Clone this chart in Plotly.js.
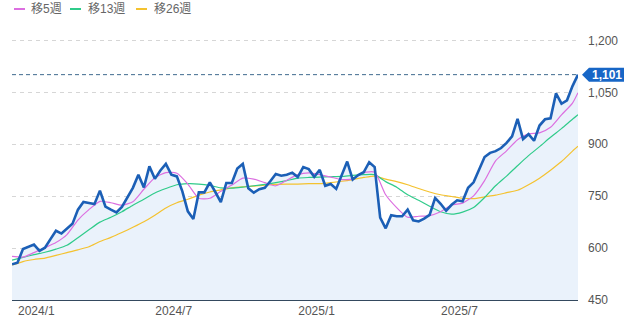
<!DOCTYPE html>
<html>
<head>
<meta charset="utf-8">
<script src="https://cdn.plot.ly/plotly-3.0.1.min.js"></script>
<style>html,body{margin:0;padding:0;background:#fff}#chart{width:628px;height:323px}</style>
</head>
<body>
<div id="chart"></div>
<script>
// Weekly closing prices (one value per week)
const closeValues = [553,558,597,604,610,592,601,626,650,642,
  655,670,711,733,730,727,766,720,711,703,
  719,746,774,812,775,836,800,824,843,812,
  807,764,706,684,761,761,790,762,733,788,
  788,830,843,773,760,770,774,793,814,809,
  812,818,805,834,828,806,826,780,785,771,
  808,850,798,811,819,848,834,688,657,695,
  692,692,711,680,677,685,696,745,728,708,
  725,738,735,774,790,826,863,875,880,889,
  904,923,973,915,929,910,954,972,975,1047,
  1017,1027,1068,1101];

// Moving averages read every second week (last point = latest week)
const ma5 = [576,574,587,601,616,639,681,711,735,731,
  724,734,770,803,818,816,785,744,744,764,
  782,802,799,789,780,796,812,817,812,805,
  798,800,818,819,754,717,689,692,694,705,
  724,730,751,795,852,881,913,930,933,949,
  985,1019,1049];
const ma13 = [565,573,581,588,597,608,630,653,675,689,
  705,724,741,759,772,783,786,785,781,774,
  773,776,780,784,789,795,802,804,805,806,
  807,810,812,812,792,776,754,738,721,705,
  698,704,717,746,780,808,838,867,893,920,
  945,972,985];
const ma26 = [551,561,567,571,579,587,595,604,619,631,
  645,660,676,695,716,731,741,753,762,768,
  774,777,779,782,784,785,785,786,786,789,
  793,798,804,808,799,792,783,772,762,754,
  749,744,743,748,753,760,767,783,802,825,
  850,880,894];

const tickWeeks = [1, 26, 52, 78];
const tickLabels = ['2024/1', '2024/7', '2025/1', '2025/7'];
const seriesNames = ['移5週', '移13週', '移26週'];
const seriesColors = ['#dc6fe0', '#2fcb8a', '#f4c22f'];

const weeks = closeValues.map((_, i) => i);
const lastIdx = closeValues.length - 1;
const maWeeks = ma5.map((_, k) => Math.min(2 * k, lastIdx));
const lastValue = closeValues[lastIdx];

const FONT = 'Arial, "Liberation Sans", "Noto Sans CJK JP", sans-serif';

const traces = [
  {x: weeks, y: closeValues, type: 'scatter', mode: 'lines',
   line: {width: 0, color: 'rgba(0,0,0,0)'}, fill: 'tozeroy', fillcolor: '#eaf2fb',
   hoverinfo: 'skip', showlegend: false}
];
[ma26, ma13, ma5].forEach((arr, j) => {
  const k = 2 - j;
  traces.push({x: maWeeks, y: arr, type: 'scatter', mode: 'lines', name: seriesNames[k],
    line: {color: seriesColors[k], width: 1.2, shape: 'spline', smoothing: 0.6}});
});
traces.push({x: weeks, y: closeValues, type: 'scatter', mode: 'lines', name: '終値',
  line: {color: '#1b5fb6', width: 2.6}});

const legendDash = [2, 58, 124];
const legendText = [17, 74, 140];
const shapes = [
  {type: 'line', xref: 'paper', x0: 0, x1: 1, yref: 'y', y0: lastValue, y1: lastValue,
   line: {color: '#3f6a8f', width: 1, dash: '4px,3px'}},
  {type: 'path', xref: 'paper', xsizemode: 'pixel', xanchor: 1,
   yref: 'y', ysizemode: 'pixel', yanchor: lastValue,
   path: 'M4,0 L11,7 L46,7 L46,-7 L11,-7 Z', fillcolor: '#1766c6', line: {width: 0}}
];
const annotations = [
  {xref: 'paper', x: 1, xshift: 29, yref: 'y', y: lastValue, xanchor: 'center', yanchor: 'middle',
   text: '<b>' + lastValue.toLocaleString('en-US') + '</b>', showarrow: false,
   font: {color: '#ffffff', size: 12, family: FONT}}
];
seriesNames.forEach((nm, k) => {
  shapes.push({type: 'line', xref: 'paper', xsizemode: 'pixel', xanchor: 0,
    x0: legendDash[k], x1: legendDash[k] + 11,
    yref: 'paper', ysizemode: 'pixel', yanchor: 1, y0: 21, y1: 21,
    line: {color: seriesColors[k], width: 2}});
  annotations.push({xref: 'paper', x: 0, xshift: legendText[k], xanchor: 'left',
    yref: 'paper', y: 1, yshift: 21, yanchor: 'middle', text: nm, showarrow: false,
    font: {color: '#666', size: 12, family: FONT}});
});

const layout = {
  width: 628, height: 323,
  margin: {l: 12, r: 50, t: 30, b: 23},
  paper_bgcolor: '#fff', plot_bgcolor: '#fff',
  showlegend: false,
  font: {family: FONT, size: 12, color: '#555'},
  xaxis: {range: [0, lastIdx], tickmode: 'array', tickvals: tickWeeks, ticktext: tickLabels,
    ticklabelposition: 'outside right', showgrid: false, zeroline: false,
    showline: true, linecolor: '#34495e', linewidth: 1, ticks: '',
    tickfont: {size: 12, color: '#555'}, fixedrange: true},
  yaxis: {side: 'right', range: [450, 1230], tick0: 450, dtick: 150, tickformat: ',d',
    showgrid: true, gridcolor: '#d6d6d6', griddash: '4px,4px', gridwidth: 1,
    zeroline: false, showline: false, ticks: '', ticklabelstandoff: 9,
    tickfont: {size: 12, color: '#555'}, fixedrange: true},
  shapes: shapes,
  annotations: annotations
};

Plotly.newPlot('chart', traces, layout, {displayModeBar: false, staticPlot: true});
</script>
</body>
</html>
